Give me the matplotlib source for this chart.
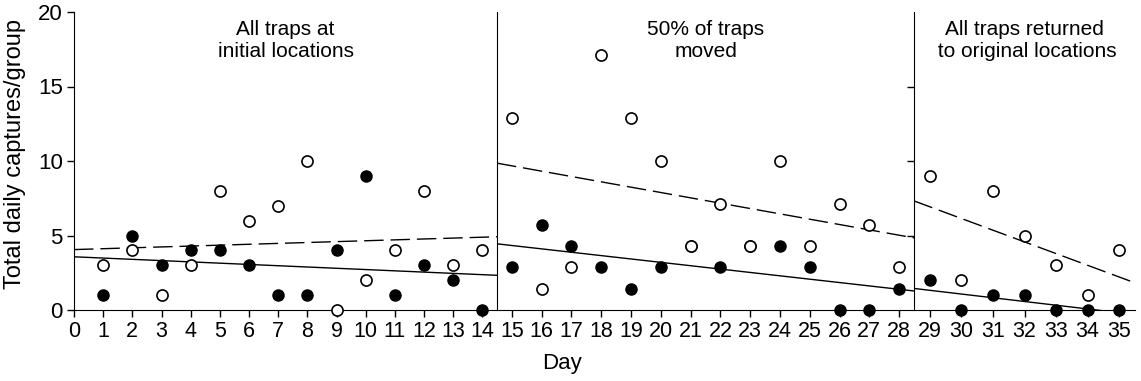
import matplotlib
matplotlib.use("Agg")
import matplotlib.pyplot as plt
import numpy as np

plt.rcParams['font.family'] = ['Liberation Sans', 'DejaVu Sans']

# Days per phase
days1 = np.arange(1, 15)
days2 = np.arange(15, 29)
days3 = np.arange(29, 36)

# Filled circles (solid regression line)
filled1 = [1, 5, 3, 4, 4, 3, 1, 1, 4, 9, 1, 3, 2, 0]
filled2 = [2.86, 5.71, 4.29, 2.86, 1.43, 2.86, 4.29, 2.86, 4.29, 4.29, 2.86, 0, 0, 1.43]
filled3 = [2, 0, 1, 1, 0, 0, 0]

# Open circles (dashed regression line)
open1 = [3, 4, 1, 3, 8, 6, 7, 10, 0, 2, 4, 8, 3, 4]
open2 = [12.86, 1.43, 2.86, 17.14, 12.86, 10.0, 4.29, 7.14, 4.29, 10.0, 4.29, 7.14, 5.71, 2.86]
open3 = [9, 2, 8, 5, 3, 1, 4]

titles = ["All traps at\ninitial locations",
          "50% of traps\nmoved",
          "All traps returned\n to original locations"]

W, H = 1141, 381
fig = plt.figure(figsize=(W / 100, H / 100), dpi=100)

tick_font = ['Liberation Sans Narrow', 'Liberation Sans', 'DejaVu Sans']

def rect(x0, x1):
    return [x0 / W, (H - 310) / H, (x1 - x0) / W, 298 / H]

panels = [
    (rect(74, 497), (0, 14.5), np.arange(0, 15), days1, filled1, open1),
    (rect(497, 914), (14.5, 28.5), days2, days2, filled2, open2),
    (rect(914, 1135), (28.5, 35.5), days3, days3, filled3, open3),
]

for i, (r, xl, ticks, d, f, o) in enumerate(panels):
    ax = fig.add_axes(r)
    ax.set_xlim(*xl)
    ax.set_ylim(0, 20)
    for s in ['top', 'right']:
        ax.spines[s].set_visible(False)
    ax.set_xticks(ticks)
    ax.tick_params(axis='both', direction='out', length=5, width=1,
                   pad=3, colors='black')
    for lab in ax.get_xticklabels():
        lab.set_family(tick_font)
        lab.set_fontsize(15.5)
    if i == 0:
        ax.set_yticks([0, 5, 10, 15, 20])
        for lab in ax.get_yticklabels():
            lab.set_family(tick_font)
            lab.set_fontsize(16)
    elif i == 1:
        ax.set_yticks([])
    else:
        ax.set_yticks([5, 10, 15])
        ax.set_yticklabels([])

    xs = np.array(xl)
    kf = np.polyfit(d, f, 1)
    ko = np.polyfit(d, o, 1)
    ax.plot(xs, np.polyval(kf, xs), color='black', lw=1.0, zorder=2)
    ax.plot(xs, np.polyval(ko, xs), color='black', lw=1.0,
            dashes=(14, 5), zorder=2)

    ax.plot(d, f, 'o', ms=8, mfc='black', mec='black', mew=1.0,
            clip_on=False, zorder=4)
    ax.plot(d, o, 'o', ms=8, mfc='white', mec='black', mew=1.2,
            clip_on=False, zorder=5)

    ax.text(0.5, 0.972, titles[i], transform=ax.transAxes, ha='center',
            va='top', fontsize=15, linespacing=1.2)

    if i == 0:
        ax.set_ylabel("Total daily captures/group", fontsize=17)
        ax.yaxis.set_label_coords((26 - 74) / 423, (310 - 154) / 298)

fig.text(562 / W, (H - 364) / H, "Day", ha='center', va='center', fontsize=16)

fig.savefig("out.png", dpi=100)
